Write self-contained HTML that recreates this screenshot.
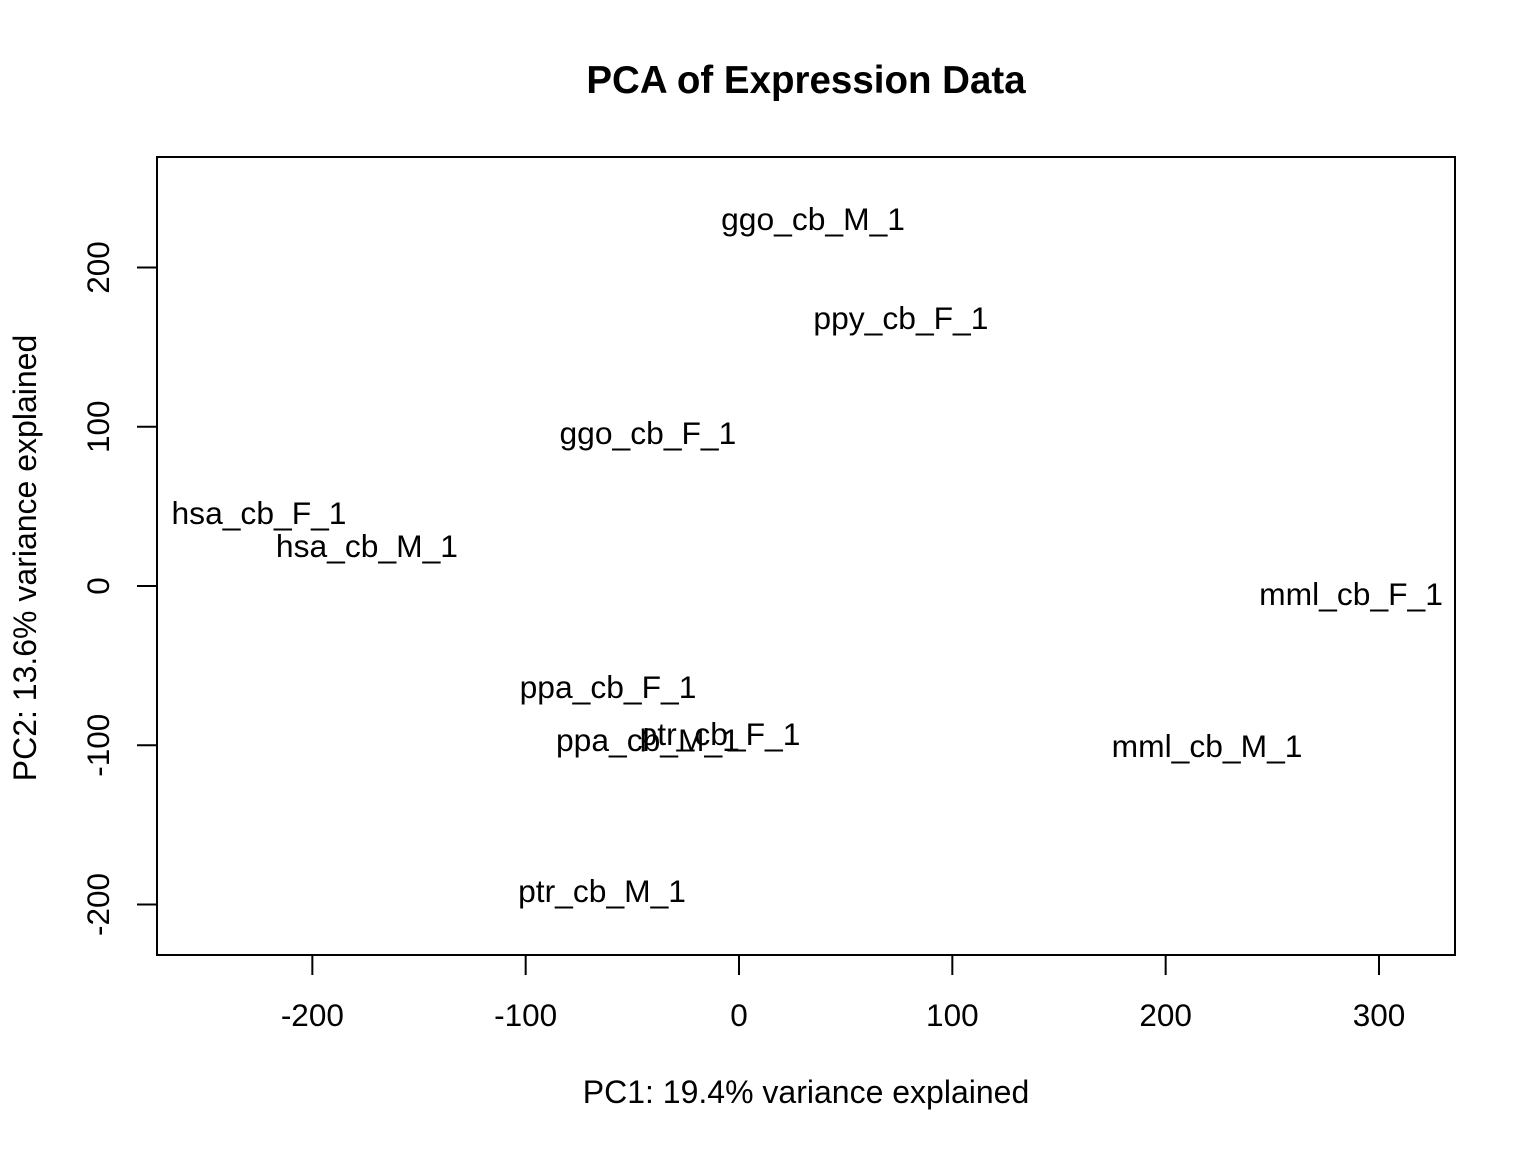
<!DOCTYPE html>
<html><head><meta charset="utf-8"><style>
html,body{margin:0;padding:0;background:#fff}
svg text{font-family:"Liberation Sans",Arial,sans-serif;fill:#000}
</style></head><body>
<svg id="chart" width="1536" height="1152" xmlns="http://www.w3.org/2000/svg">
<text x="806" y="93" text-anchor="middle" font-size="38.5" font-weight="bold">PCA of Expression Data</text>
<rect x="157" y="157" width="1298" height="798" fill="none" stroke="#000" stroke-width="2"/>
<g id="xaxis"></g>
<g id="yaxis"></g>
<g id="points"></g>
<text x="806" y="1103" text-anchor="middle" font-size="32">PC1: 19.4% variance explained</text>
<text transform="translate(36,558) rotate(-90)" text-anchor="middle" font-size="32">PC2: 13.6% variance explained</text>
</svg>
<script>
const sampleNames = ["ggo_cb_M_1","ppy_cb_F_1","ggo_cb_F_1","hsa_cb_F_1","hsa_cb_M_1","mml_cb_F_1","ppa_cb_F_1","ppa_cb_M_1","ptr_cb_F_1","mml_cb_M_1","ptr_cb_M_1"];
const pc1Values = [34.7,75.9,-42.7,-225,-174.4,286.9,-61.4,-42.7,-8.9,219.4,-64.2];
const pc2Values = [230.4,168.3,96.1,45.8,25.1,-5.0,-63.4,-96.7,-92.9,-100.5,-191.5];
const xTicks = [-200,-100,0,100,200,300];
const yTicks = [-200,-100,0,100,200];
const NS="http://www.w3.org/2000/svg";
function xScale(v){return 739+v*2.1333;}
function yScale(v){return 586-v*1.5925;}
function mk(tag,attrs,parent){const e=document.createElementNS(NS,tag);for(const k in attrs)e.setAttribute(k,attrs[k]);parent.appendChild(e);return e;}
const xa=document.getElementById('xaxis');
mk('line',{x1:xScale(xTicks[0]),x2:xScale(xTicks[xTicks.length-1]),y1:955,y2:955,stroke:'#000','stroke-width':2},xa);
xTicks.forEach(t=>{
  const l=mk('line',{x1:xScale(t),x2:xScale(t),y1:955,y2:975,stroke:'#000','stroke-width':2},xa);
  
  
  const tx=mk('text',{x:xScale(t),y:1026,'text-anchor':'middle','font-size':31.5},xa);
  tx.textContent=t;
  
  
});
const ya=document.getElementById('yaxis');
mk('line',{x1:157,x2:157,y1:yScale(yTicks[0]),y2:yScale(yTicks[yTicks.length-1]),stroke:'#000','stroke-width':2},ya);
yTicks.forEach(t=>{
  const l=mk('line',{x1:137,x2:157,y1:yScale(t),y2:yScale(t),stroke:'#000','stroke-width':2},ya);
  
  
  const tx=mk('text',{transform:`translate(109,${yScale(t)}) rotate(-90)`,'text-anchor':'middle','font-size':31.5},ya);
  tx.textContent=t;
  
  
});
const pg=document.getElementById('points');
sampleNames.forEach((n,i)=>{
  const tx=mk('text',{x:xScale(pc1Values[i]),y:yScale(pc2Values[i])+11,'text-anchor':'middle','font-size':31.8},pg);
  tx.textContent=n;
  
  
});
</script>
</body></html>
